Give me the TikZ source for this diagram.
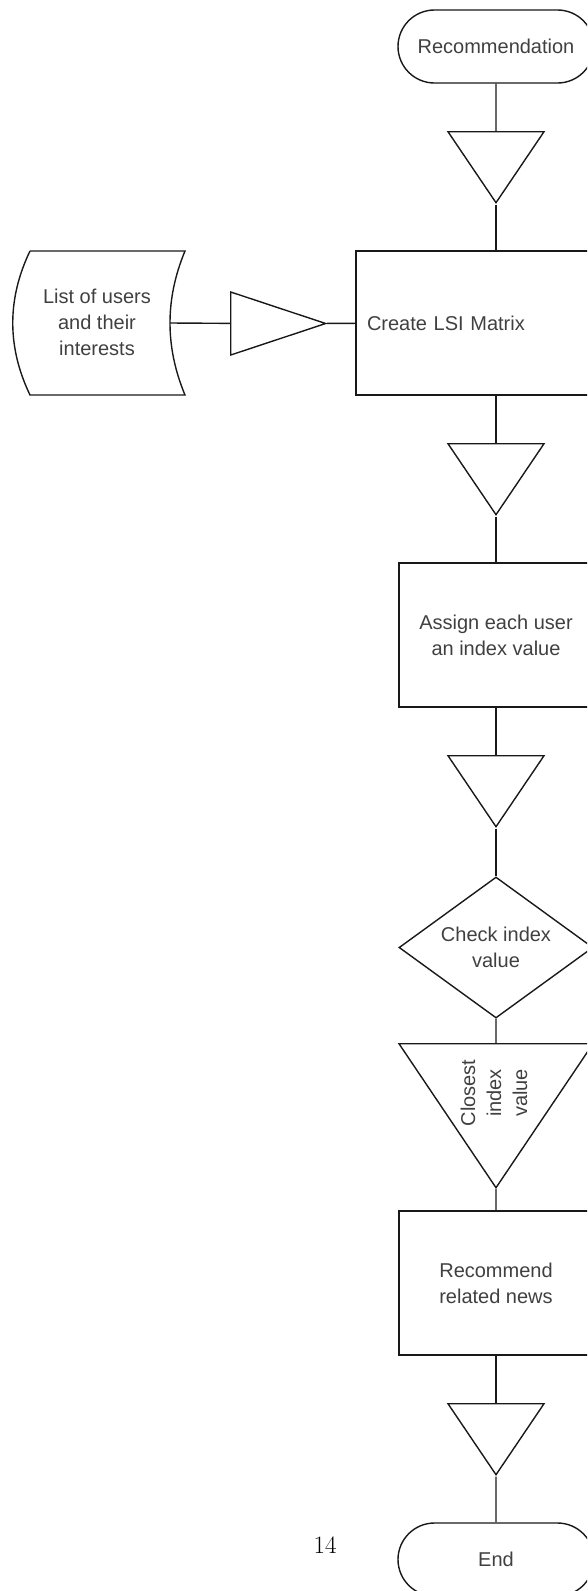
\documentclass[tikz,border=0pt]{standalone}
\usepackage{fontspec}
\setsansfont{Liberation Sans}
\usetikzlibrary{shapes.geometric,shapes.misc}

\begin{document}
\begin{tikzpicture}[x=1pt,y=-1pt,line width=1.4pt,color=black!90,
    every node/.style={font=\sffamily\fontsize{20}{26}\selectfont,text=black!75}]
        \tikzstyle{term}=[draw,shape=rounded rectangle,minimum width=196pt,minimum height=73pt,inner sep=0pt]
        \tikzstyle{proc}=[draw,shape=rectangle,minimum width=194pt,minimum height=144pt,inner sep=0pt,align=center]
        \tikzstyle{merge}=[draw,shape=isosceles triangle,isosceles triangle stretches,shape border rotate=270,
            minimum width=96pt,minimum height=71pt,inner sep=0pt,anchor=lower side]
        \tikzstyle{dec}=[draw,shape=diamond,aspect=1.376,minimum width=194pt,minimum height=141pt,inner sep=0pt,align=center]

        \clip (0,0) rectangle (587,1591);

        \node[term](rec) at (496,46.5){Recommendation};
        \node[merge](m1) at (496,131){};
        \node[proc,minimum width=280pt,text width=258pt,inner xsep=11pt,align=left](lsi) at (496,323){Create LSI Matrix};

        % input data on the left
        \node[align=center](list) at (97,322){List of users\\and their\\interests};
        \draw (30,251) -- (185,251) .. controls (165,299) and (165,347) .. (185,395)
            -- (30,395) .. controls (7,347) and (7,299) .. (30,251);
        \coordinate (listout) at (170,323);
        \node[merge,shape border rotate=0,minimum width=63pt,minimum height=95pt](m0) at (230,323.5){};

        \node[merge](m2) at (496,443){};
        \node[proc](assign) at (496,635){Assign each user\\an index value};
        \node[merge](m3) at (496,755){};
        \node[dec](check) at (496,947.5){Check index\\value};
        \node[merge,isosceles triangle apex angle=68,minimum width=194pt,minimum height=144pt](m4) at (496,1043)
            {\rotatebox{90}{\begin{tabular}{@{}c@{\hspace{14pt}}}Closest\\index\\value\end{tabular}}};
        \node[proc](news) at (496,1283){Recommend\\related news};
        \node[merge](m5) at (496,1403){};
        \node[term](end) at (496,1559.5){End};

        \node[font=\fontsize{25}{30}\selectfont,text=black](page) at (325,1545){14};

        \draw (rec) -- (m1);
        \draw (m1) -- (lsi);
        \draw (listout) -- (m0);
        \draw (m0) -- (lsi);
        \draw (lsi) -- (m2);
        \draw (m2) -- (assign);
        \draw (assign) -- (m3);
        \draw (m3) -- (check);
        \draw (check) -- (m4);
        \draw (m4) -- (news);
        \draw (news) -- (m5);
        \draw (m5) -- (end);
\end{tikzpicture}
\end{document}
